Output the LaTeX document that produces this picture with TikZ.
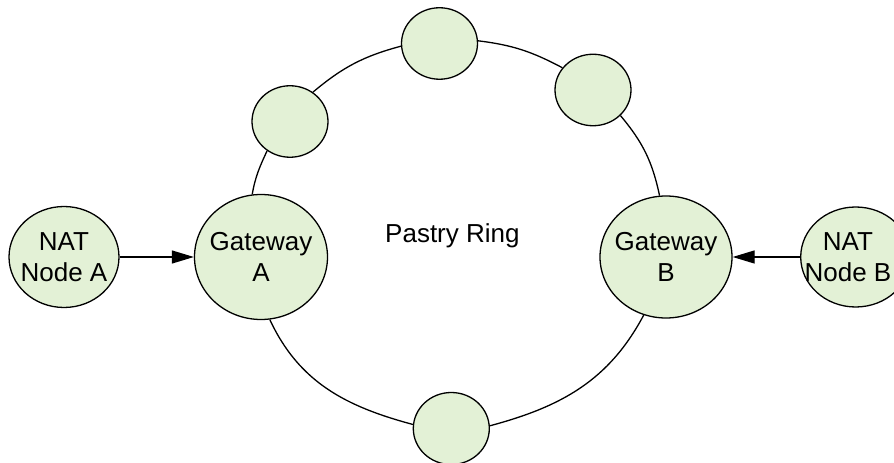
\documentclass[tikz,border=0pt]{standalone}
\usepackage{fontspec}
\setmainfont{Liberation Sans}
\usetikzlibrary{arrows.meta,shapes.geometric}
\definecolor{nodefill}{RGB}{227,241,214}
\begin{document}
\begin{tikzpicture}[x=1pt,y=1pt,
  ell/.style={ellipse,draw=black,line width=1.3pt,fill=nodefill,inner sep=0pt},
  big/.style={ell,minimum width=133pt,minimum height=125pt},
  nat/.style={ell,minimum width=110pt,minimum height=101pt},
  small/.style={ell,minimum width=76pt,minimum height=71.5pt},
  txt/.style={align=center,font=\fontsize{26}{31}\selectfont,inner sep=0pt},
  ring/.style={line width=1.3pt},
  arr/.style={line width=1.3pt,-{Triangle[length=22pt,width=13pt]}}]
\useasboundingbox (0,0) rectangle (894,463);
% ring connectors (drawn first, nodes cover ends)
\node[big] (gwA) at (261,206) {};
\node[big,minimum width=132pt,minimum height=122pt] (gwB) at (666,206) {};
\node[small] (ul) at (290,341.5) {};
\node[small] (top) at (439.5,419.5) {};
\node[small] (ur) at (593,373) {};
\node[small,minimum height=72pt] (bot) at (451.3,34.5) {};
\node[nat] (natA) at (64,206) {};
\node[nat,minimum height=100pt] (natB) at (855.7,206) {};
\draw[ring] (ul.52) to[out=40,in=195] (top.184);
\draw[ring] (top.4) to[out=-7,in=152] (ur.144);
\draw[ring] (ur.-43) to[out=-50,in=102] (gwB.96);
\draw[ring] (ul.-128) to[out=-115,in=80] (gwA.98);
\draw[ring] (gwA.-82) to[out=-65,in=165] (bot.174);
\draw[ring] (gwB.-111) to[out=-118,in=15] (bot.4);
\draw[arr] (natA.east) -- (gwA.west);
\draw[arr] (natB.west) -- (gwB.east);
\node[txt] (gwAt) at (gwA) {Gateway\\A};
\node[txt] (gwBt) at (gwB) {Gateway\\B};
\node[txt] (natAt) at (natA) {NAT\\Node A};
\node[txt] (natBt) at (848,206) {NAT\\Node B};
\node[txt,anchor=base west] (ringt) at (385,220.7) {Pastry Ring};
\end{tikzpicture}
\end{document}
